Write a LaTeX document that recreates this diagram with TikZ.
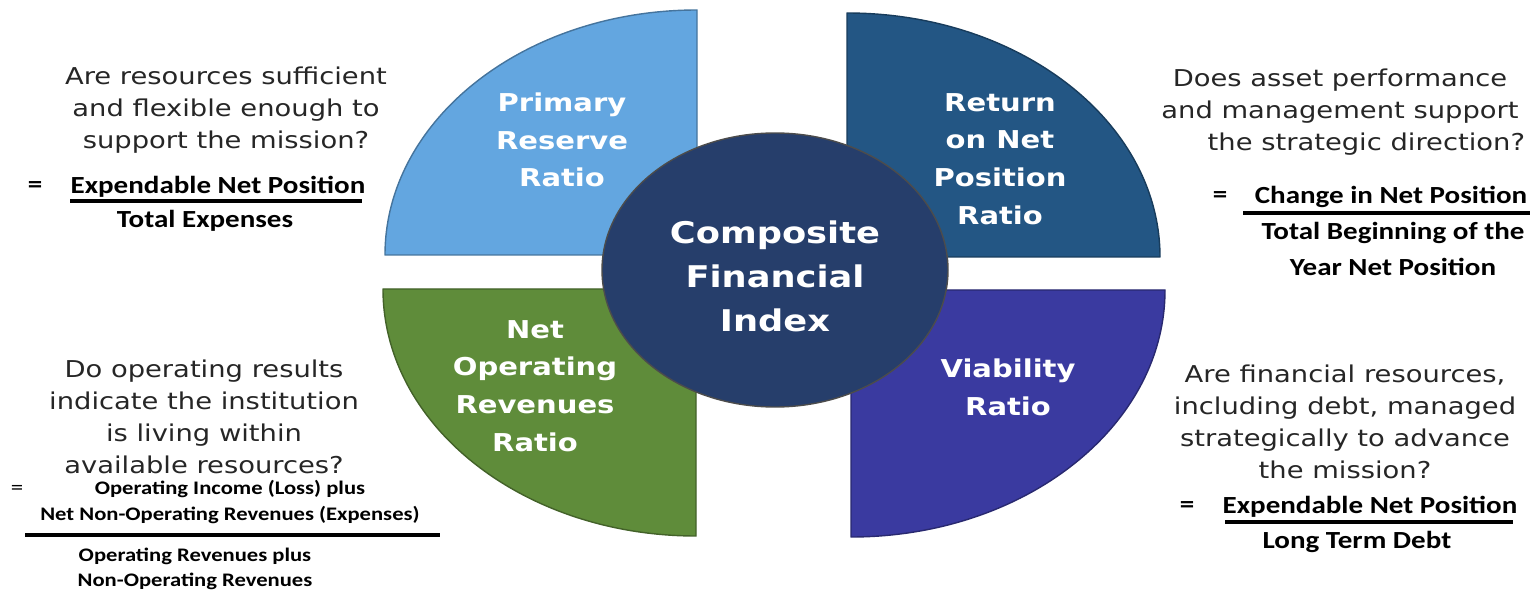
\documentclass[tikz,border=0pt]{standalone}
\usepackage{fontspec}
\setmainfont{DejaVu Sans}[FakeStretch=1.18]
\newfontfamily\calib{Carlito}[FakeStretch=1.18]
\definecolor{prrblue}{HTML}{63A6E0}
\definecolor{rnpblue}{HTML}{235684}
\definecolor{norgreen}{HTML}{5F8C3A}
\definecolor{viaindigo}{HTML}{3A3AA0}
\definecolor{cfinavy}{HTML}{263E6B}

\begin{document}
\begin{tikzpicture}[
    x=0.02cm, y=0.02cm,
    quad/.style={line width=0.8pt, line join=round},
    qlbl/.style={text=white, align=center, font=\fontsize{14}{21.5}\selectfont\bfseries},
    question/.style={align=center, text=black!85, font=\fontsize{13.2}{18.1}\selectfont},
    frac/.style={inner sep=0pt, align=center, font=\calib\fontsize{14}{19.5}\selectfont\bfseries},
    smallfrac/.style={frac, font=\calib\fontsize{10.9}{14.6}\selectfont\bfseries},
    fracbar/.style={line width=1.8pt},
    eqsign/.style={inner sep=0pt, font=\calib\fontsize{14}{16}\selectfont\bfseries}
]
\useasboundingbox (0,0) rectangle (1532,-591);

% ---- Quadrants ----
\fill[quad, prrblue, draw=prrblue!70!black] (697,-255) -- (385,-255)
    arc[start angle=180, end angle=90, x radius=312, y radius=245] -- cycle;
\fill[quad, rnpblue, draw=rnpblue!70!black] (847,-257) -- (847,-13)
    arc[start angle=90, end angle=0, x radius=313, y radius=244] -- cycle;
\fill[quad, norgreen, draw=norgreen!70!black] (696,-289) -- (383,-289)
    arc[start angle=180, end angle=270, x radius=313, y radius=247] -- cycle;
\fill[quad, viaindigo, draw=viaindigo!70!black] (851,-290) -- (851,-537)
    arc[start angle=270, end angle=360, x radius=314, y radius=247] -- cycle;

\node[qlbl] (prr) at (562,-140) {Primary\\Reserve\\Ratio};
\node[qlbl] (rnp) at (1000,-159) {Return\\on Net\\Position\\Ratio};
\node[qlbl] (nor) at (535,-386) {Net\\Operating\\Revenues\\Ratio};
\node[qlbl] (via) at (1008,-387) {Viability\\Ratio};

% ---- Composite index ----
\fill[cfinavy, draw=black!70, line width=0.8pt] (775,-270) ellipse [x radius=173, y radius=137];
\node[qlbl, font=\fontsize{17}{25}\selectfont\bfseries] (cfi) at (775,-276) {Composite\\Financial\\Index};

% ---- Primary reserve ----
\node[question] (q1) at (226,-110) {Are resources sufficient\\and flexible enough to\\support the mission?};
\node[eqsign] (eq1) at (35,-187) {=};
\node[frac] (num1) at (218,-187) {Expendable Net Position};
\node[frac] (den1) at (205,-221) {Total Expenses};
\draw[fracbar] (70,-201) -- (362,-201);

% ---- Return on net position ----
\node[question] (q2) at (1340,-112) {Does asset performance\\and management support\\\hspace*{30pt}the strategic direction?};
\node[eqsign] (eq2) at (1220,-197) {=};
\node[frac] (num2) at (1391,-197) {Change in Net Position};
\node[frac, font=\calib\fontsize{14}{20}\selectfont\bfseries] (den2) at (1393,-249) {Total Beginning of the\\Year Net Position};
\draw[fracbar] (1243,-213) -- (1530,-213);

% ---- Net operating revenues ----
\node[question] (q3) at (204,-417) {Do operating results\\indicate the institution\\is living within\\available resources?};
\node[inner sep=0pt, font=\calib\fontsize{12}{14}\selectfont] (eq3) at (17,-490) {=};
\node[smallfrac] (num3) at (230,-502) {Operating Income (Loss) plus\\Net Non-Operating Revenues (Expenses)};
\node[smallfrac] (den3) at (195,-569) {Operating Revenues plus\\Non-Operating Revenues};
\draw[fracbar, line width=2.2pt] (25,-535) -- (440,-535);

% ---- Viability ----
\node[question] (q4) at (1345,-422) {Are financial resources,\\including debt, managed\\strategically to advance\\the mission?};
\node[eqsign] (eq4) at (1187,-507) {=};
\node[frac] (num4) at (1370,-507) {Expendable Net Position};
\node[frac] (den4) at (1357,-542) {Long Term Debt};
\draw[fracbar] (1225,-522) -- (1513,-522);

\end{tikzpicture}
\end{document}
